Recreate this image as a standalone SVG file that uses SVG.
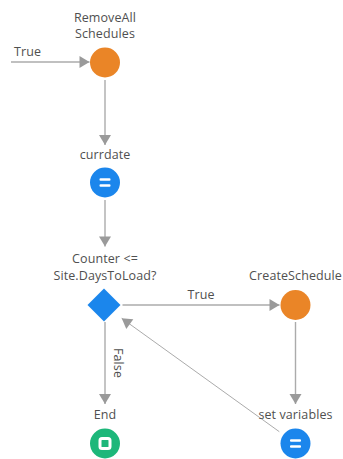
<svg xmlns="http://www.w3.org/2000/svg" width="343" height="459" viewBox="0 0 343 459">
  <style>
    .lbl { font-family: "Open Sans", "Noto Sans", sans-serif; font-size: 12.5px; letter-spacing: 0.1px; fill: #505050; text-anchor: middle; }
    .edge { stroke: #ababab; stroke-width: 1.4; fill: none; marker-end: url(#arrow); }
    .back { stroke: #ababab; stroke-width: 1; fill: none; marker-end: url(#arrow); }
    .action { fill: #ea8527; }
    .assign { fill: #1b86ec; }
    .end { fill: #1db77a; }
    .glyph { fill: #ffffff; }
  </style>
  <defs>
    <marker id="arrow" markerUnits="userSpaceOnUse" markerWidth="12" markerHeight="14" viewBox="0 0 12 14" refX="11" refY="7" orient="auto">
      <path d="M1,1 L11,7 L1,13 Z" fill="#9a9a9a"/>
    </marker>
  </defs>

  <g id="connectors">
    <line class="edge" x1="11" y1="62" x2="89.5" y2="62"/>
    <text class="lbl" x="27.5" y="55.5">True</text>
    <line class="edge" x1="105" y1="80" x2="105" y2="145"/>
    <line class="edge" x1="105" y1="200" x2="105" y2="246.5"/>
    <line class="edge" x1="122.5" y1="305" x2="279.5" y2="305"/>
    <text class="lbl" x="201" y="299">True</text>
    <line class="edge" x1="295.5" y1="322" x2="295.5" y2="404"/>
    <line class="edge" x1="105" y1="322" x2="105" y2="404"/>
    <text class="lbl" transform="translate(113.5,363) rotate(90)" x="0" y="0">False</text>
    <line class="back" x1="279.3" y1="431.7" x2="121.7" y2="318.3"/>
  </g>

  <g id="remove-all-schedules">
    <text class="lbl" x="105" y="21.5">RemoveAll</text>
    <text class="lbl" x="105" y="37.5">Schedules</text>
    <circle class="action" cx="105" cy="62.5" r="15"/>
  </g>

  <g id="currdate">
    <text class="lbl" x="105" y="158.5">currdate</text>
    <circle class="assign" cx="105" cy="182.5" r="15"/>
    <rect class="glyph" x="99.5" y="178.3" width="11" height="2.4" rx="1"/>
    <rect class="glyph" x="99.5" y="184.3" width="11" height="2.4" rx="1"/>
  </g>

  <g id="days-check">
    <text class="lbl" x="105" y="263">Counter &lt;=</text>
    <text class="lbl" x="105" y="280">Site.DaysToLoad?</text>
    <path class="assign" d="M104,288.5 L120.5,305 L104,321.5 L87.5,305 Z"/>
  </g>

  <g id="create-schedule">
    <text class="lbl" x="295.5" y="280">CreateSchedule</text>
    <circle class="action" cx="295.5" cy="305" r="15"/>
  </g>

  <g id="end">
    <text class="lbl" x="105" y="419">End</text>
    <circle class="end" cx="105" cy="443.5" r="15"/>
    <rect x="100" y="438.5" width="10" height="10" rx="2" fill="none" stroke="#ffffff" stroke-width="3"/>
  </g>

  <g id="set-variables">
    <text class="lbl" x="295.5" y="419">set variables</text>
    <circle class="assign" cx="295.5" cy="443.5" r="15"/>
    <rect class="glyph" x="290" y="439.3" width="11" height="2.4" rx="1"/>
    <rect class="glyph" x="290" y="445.3" width="11" height="2.4" rx="1"/>
  </g>
</svg>
